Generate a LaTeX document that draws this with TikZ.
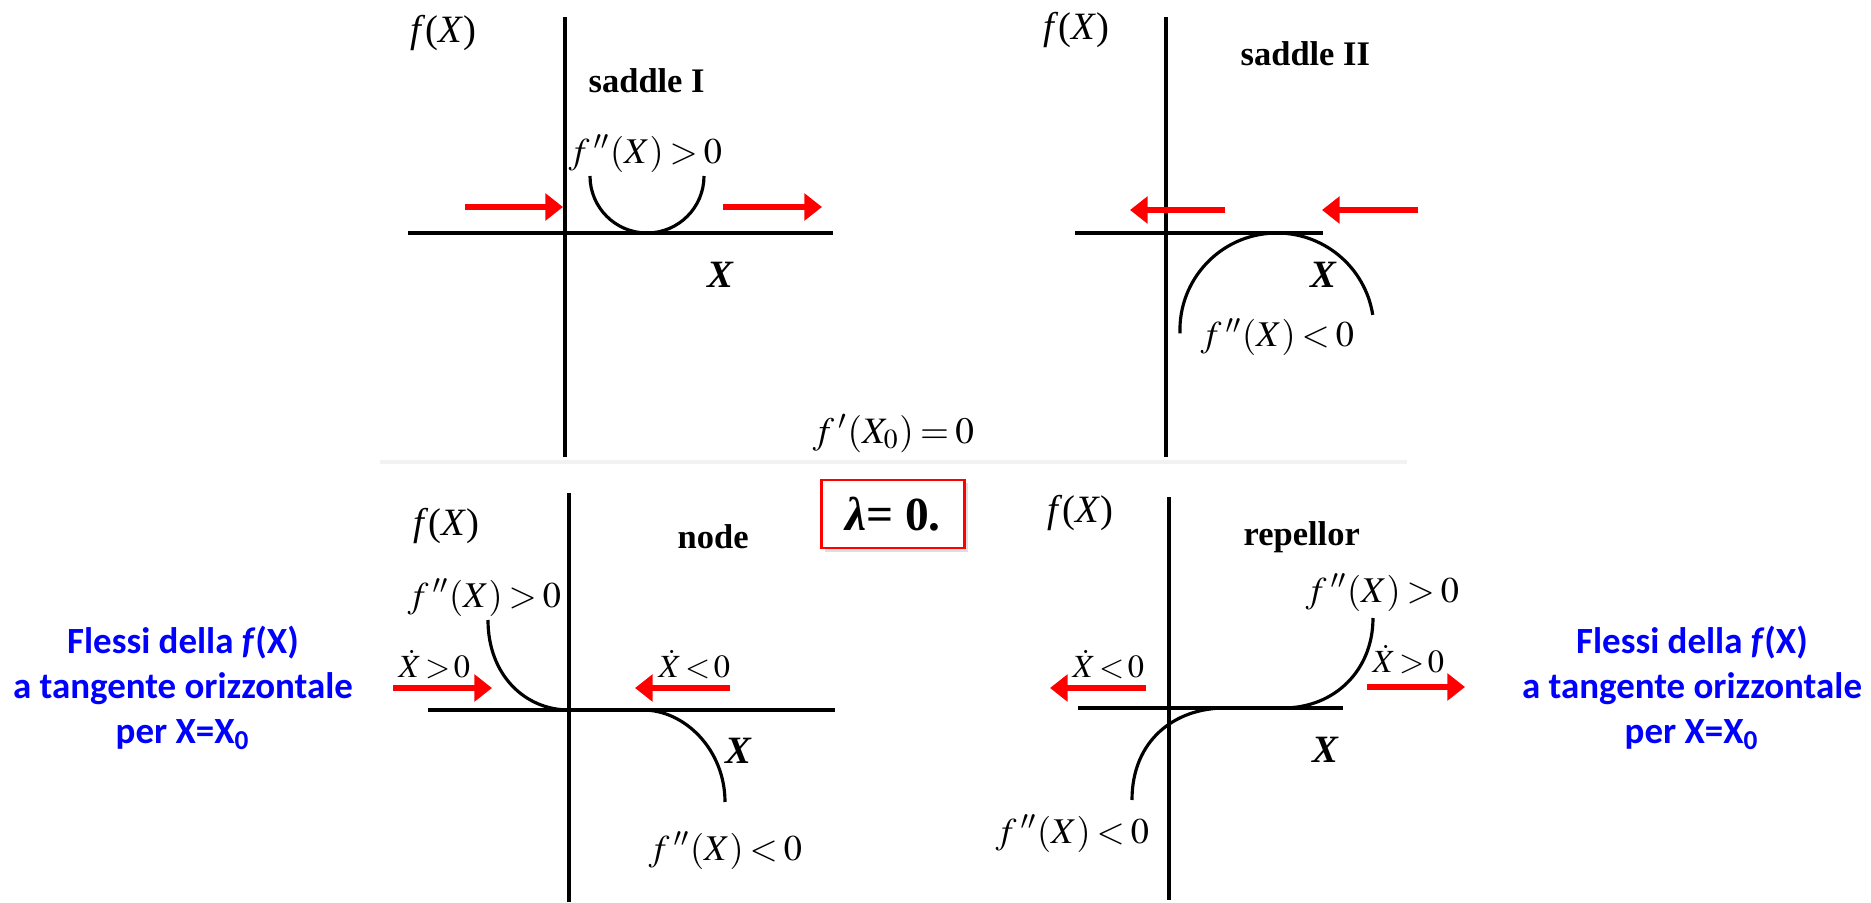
\documentclass[tikz,border=0pt]{standalone}
\usepackage{mathptmx}
\usepackage[no-math]{fontspec}
\setmainfont{Liberation Serif}
\newfontfamily\flessifont{Carlito}
\usetikzlibrary{arrows.meta,shadows}

\tikzset{
  axisline/.style={line width=0.9pt},
  fcurve/.style={line width=0.9pt},
  flow/.style={red, line width=1.6pt, -{Triangle[length=5pt,width=7.5pt]}},
  lab/.style={anchor=base west, inner sep=0pt},
  fxlab/.style={lab, font=\fontsize{11}{13}\selectfont},
  kindlab/.style={lab, font=\fontsize{9.8}{12}\selectfont\bfseries},
  condlab/.style={lab, font=\fontsize{10.3}{12}\selectfont},
  ratelab/.style={lab, font=\fontsize{9.2}{11}\selectfont},
  xlab/.style={lab, font=\fontsize{11}{13}\selectfont\bfseries\itshape},
  flessi/.style={blue, align=center, inner sep=0pt,
    font=\flessifont\fontsize{10.5}{12.8}\selectfont\bfseries},
  lambdabox/.style={draw=red, line width=0.8pt, fill=white,
    minimum width=1.43cm, minimum height=0.68cm, inner sep=0pt,
    drop shadow={shadow xshift=1pt, shadow yshift=-1pt, opacity=0.25},
    font=\fontsize{13.5}{16}\selectfont\bfseries}
}
\newcommand{\gt}{\mkern3mu{>}\mkern3mu}
\newcommand{\lt}{\mkern3mu{<}\mkern3mu}

\begin{document}
\begin{tikzpicture}[x=0.01cm, y=-0.01cm]
  \useasboundingbox (0,0) rectangle (1871,903);

  % faint seam between the two scanned rows
  \draw[black!5, line width=1pt] (380,462) -- (1407,462);

  % saddle I
  \draw[axisline] (565,17) -- (565,457);
  \draw[axisline] (408,233) -- (833,233);
  \draw[fcurve] (704,176) arc[start angle=0, end angle=180, radius=57];
  \draw[flow] (465,207) -- (563,207);
  \draw[flow] (723,207) -- (822,207);
  \node[fxlab] (fx1) at (410,42) {\textit{f}(\textit{X})};
  \node[kindlab] (kind1) at (588,93) {saddle I};
  \node[condlab] (cond1) at (568,163) {$f\,''(X)\gt 0$};
  \node[xlab] (x1) at (707,287) {X};

  % saddle II
  \draw[axisline] (1166,17) -- (1166,457);
  \draw[axisline] (1075,233) -- (1323,233);
  \draw[fcurve] (1180,333.4) arc[start angle=178, end angle=351, radius=97];
  \draw[flow] (1225,210) -- (1130,210);
  \draw[flow] (1418,210) -- (1322,210);
  \node[fxlab] (fx2) at (1043,40) {\textit{f}(\textit{X})};
  \node[kindlab] (kind2) at (1240,65) {saddle II};
  \node[xlab] (x2) at (1310,287) {X};
  \node[condlab] (cond2) at (1200,347) {$f\,''(X)\lt 0$};

  % middle
  \node[condlab, font=\fontsize{10.6}{12}\selectfont] (fprime) at (812,443)
    {$f\,'(X_0)\mkern3mu{=}\mkern3mu0$};
  \node[lambdabox] (lambda) at (893,514) {\textit{λ}= 0.};

  % node
  \draw[axisline] (569,493) -- (569,902);
  \draw[axisline] (428,710) -- (835,710);
  \draw[fcurve] (488,620) .. controls (488,675) and (525,710) .. (569,710)
    -- (643,710) .. controls (685,710) and (725,750) .. (725,802);
  \draw[flow] (393,688) -- (492,688);
  \draw[flow] (730,688) -- (635,688);
  \node[fxlab] (fx3) at (413,535) {\textit{f}(\textit{X})};
  \node[kindlab] (kind3) at (677,548) {node};
  \node[condlab] (cond3a) at (407,607) {$f\,''(X)\gt 0$};
  \node[ratelab] (rate3a) at (398,677) {$\dot X\mkern2mu{>}\mkern2mu0$};
  \node[ratelab] (rate3b) at (658,677) {$\dot X\mkern2mu{<}\mkern2mu0$};
  \node[xlab] (x3) at (725,763) {X};
  \node[condlab] (cond3b) at (648,860) {$f\,''(X)\lt 0$};

  % repellor
  \draw[axisline] (1169,497) -- (1169,900);
  \draw[axisline] (1078,708) -- (1343,708);
  \draw[fcurve] (1132,800) .. controls (1132,740) and (1175,708) .. (1225,708)
    -- (1283,708) .. controls (1335,708) and (1373,670) .. (1373,618);
  \draw[flow] (1146,688) -- (1050,688);
  \draw[flow] (1367,687) -- (1465,687);
  \node[fxlab] (fx4) at (1047,522) {\textit{f}(\textit{X})};
  \node[kindlab] (kind4) at (1243,545) {repellor};
  \node[condlab] (cond4a) at (1305,602) {$f\,''(X)\gt 0$};
  \node[ratelab] (rate4a) at (1072,677) {$\dot X\mkern2mu{<}\mkern2mu0$};
  \node[ratelab] (rate4b) at (1372,672) {$\dot X\mkern2mu{>}\mkern2mu0$};
  \node[xlab] (x4) at (1312,762) {X};
  \node[condlab] (cond4b) at (995,843) {$f\,''(X)\lt 0$};

  % side notes
  \node[flessi] (note1) at (183,688)
    {Flessi della \textit{f}(X)\\a tangente orizzontale\\per X=X\textsubscript{0}};
  \node[flessi] (note2) at (1692,688)
    {Flessi della \textit{f}(X)\\a tangente orizzontale\\per X=X\textsubscript{0}};
\end{tikzpicture}
\end{document}
